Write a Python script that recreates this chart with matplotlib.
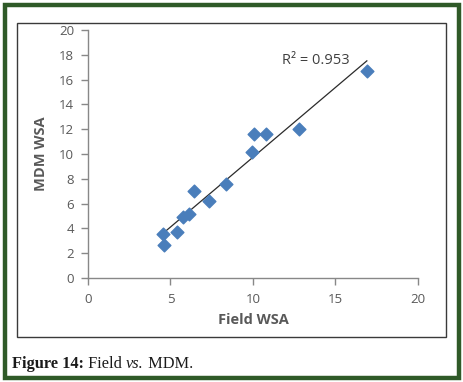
import numpy as np
import matplotlib
matplotlib.use("Agg")
import matplotlib.pyplot as plt
from matplotlib.patches import Rectangle

field_wsa = [16.9, 12.8, 10.8, 10.05, 9.95, 8.35, 7.35, 6.4, 6.15, 5.75, 5.4, 4.55, 4.6]
mdm_wsa = [16.7, 12.0, 11.6, 11.6, 10.2, 7.6, 6.2, 7.0, 5.2, 4.95, 3.75, 3.55, 2.7]
x_ticks = [0, 5, 10, 15, 20]
y_ticks = [0, 2, 4, 6, 8, 10, 12, 14, 16, 18, 20]
r2_label = "R² = 0.953"
caption_bold = "Figure 14:"
caption_rest = " Field "
caption_italic = "vs."
caption_end = " MDM."

W, H = 464, 382
fig = plt.figure(figsize=(W / 100, H / 100), dpi=100)
fig.patch.set_facecolor("white")

def px(x0, y0, w, h):
    return [x0 / W, 1 - (y0 + h) / H, w / W, h / H]

# outer green frame
fig.patches.append(Rectangle((4.5 / W, 1 - 377.5 / H), 455 / W, 373 / H,
                             transform=fig.transFigure, fill=False,
                             edgecolor="#2f5a28", linewidth=3.2))
# inner chart box
fig.patches.append(Rectangle((16.5 / W, 1 - 336.5 / H), 429.5 / W, 314 / H,
                             transform=fig.transFigure, fill=False,
                             edgecolor="#3a3a3a", linewidth=1.0))

ax = fig.add_axes(px(88, 30, 330, 248))
ax.scatter(field_wsa, mdm_wsa, marker="D", s=42, color="#4a7ebb",
           edgecolors="#4a7ebb", zorder=3)

coef = np.polyfit(field_wsa, mdm_wsa, 1)
xs = np.array([min(field_wsa) - 0.1, max(field_wsa)])
ax.plot(xs, np.polyval(coef, xs), color="#2b2b2b", linewidth=0.9, zorder=2)

ax.set_xlim(0, 20)
ax.set_ylim(0, 20)
ax.set_xticks(x_ticks)
ax.set_yticks(y_ticks)
for s in ["top", "right"]:
    ax.spines[s].set_visible(False)
for s in ["left", "bottom"]:
    ax.spines[s].set_color("#888888")
    ax.spines[s].set_linewidth(1.0)
ax.tick_params(axis="both", direction="out", length=5, width=1.0,
               color="#888888", labelcolor="#595959", labelsize=9.5)
ax.tick_params(axis="x", pad=6)
ax.tick_params(axis="y", pad=5)
for lab in ax.get_xticklabels() + ax.get_yticklabels():
    lab.set_family("Open Sans")

ax.set_xlabel("Field WSA", fontsize=10.5, fontweight="bold", color="#595959",
              family="Open Sans", labelpad=5)
ax.set_ylabel("MDM WSA", fontsize=10.5, fontweight="bold", color="#595959",
              family="Open Sans", labelpad=8)

ax.text(11.75, 17.5, r2_label, fontsize=10.5, color="#404040",
        family="Open Sans", va="center", ha="left")

# caption
y_cap = 1 - 364 / H
fs = 11.8
t1 = fig.text(12 / W, y_cap, caption_bold, fontsize=fs, fontweight="bold",
              family="Liberation Serif", color="#1a1a1a", va="center")
fig.canvas.draw()
r = fig.canvas.get_renderer()
bb = t1.get_window_extent(r)
t2 = fig.text(bb.x1 / W, y_cap, caption_rest, fontsize=fs, family="Liberation Serif",
              color="#1a1a1a", va="center")
bb = t2.get_window_extent(r)
t3 = fig.text(bb.x1 / W, y_cap, caption_italic, fontsize=fs, style="italic",
              family="Liberation Serif", color="#1a1a1a", va="center")
bb = t3.get_window_extent(r)
fig.text(bb.x1 / W, y_cap, caption_end, fontsize=fs, family="Liberation Serif",
         color="#1a1a1a", va="center")

fig.savefig("out.png", dpi=100)
